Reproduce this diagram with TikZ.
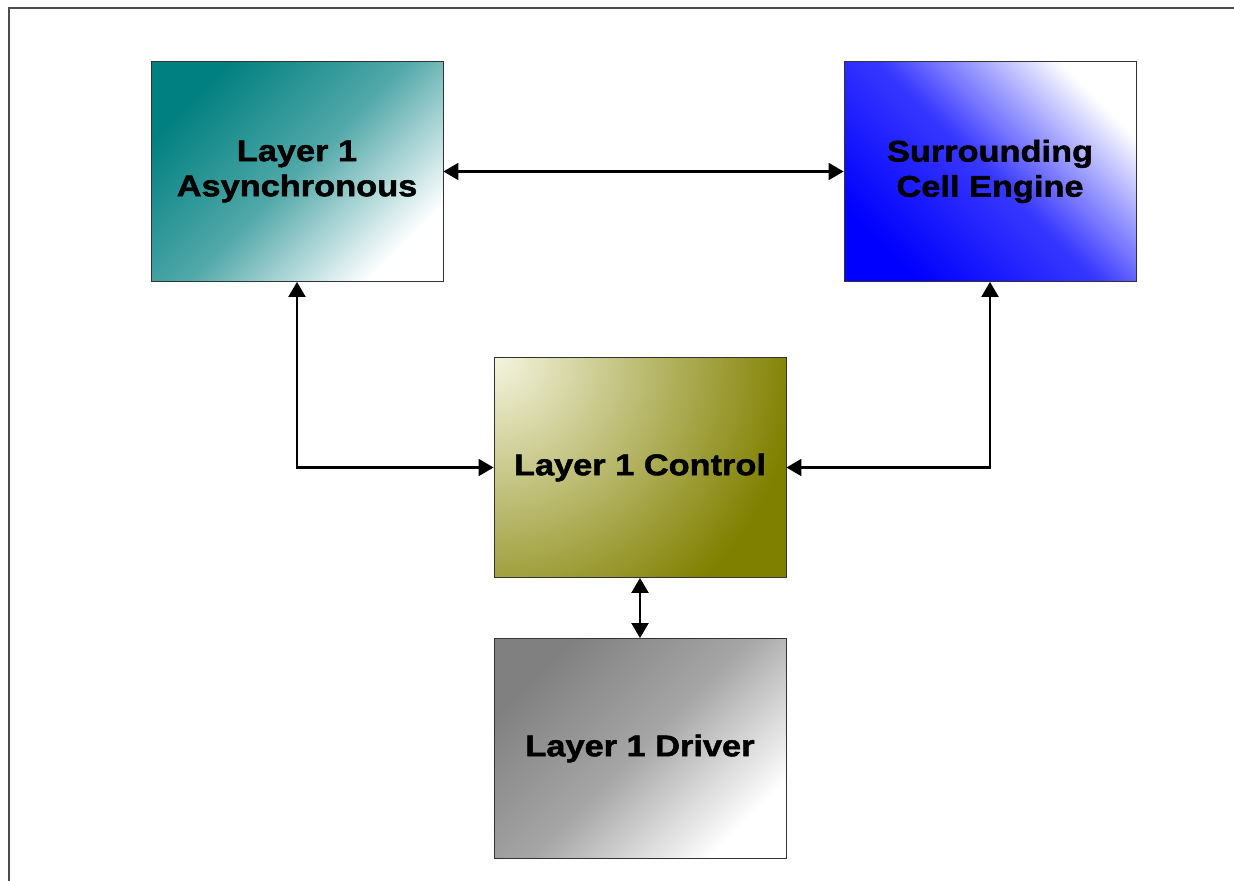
\documentclass[tikz,border=0pt]{standalone}
\usepackage{fontspec}
\setmainfont{Liberation Sans}
\newfontfamily\blockfont{Liberation Sans}[UprightFont={* Bold}, FakeStretch=1.15, FakeBold=1.6]
\usepackage{tikz}
\usetikzlibrary{positioning}
\usetikzlibrary{arrows.meta}
\colorlet{ctrllight}{olive!8!white}
\colorlet{ctrldark}{olive}
\pgfdeclareradialshading{ctrlglow}{\pgfpoint{0bp}{0bp}}{color(0bp)=(ctrllight); color(20bp)=(ctrldark); color(50bp)=(ctrldark)}
\tikzset{	node distance=5.62cm,
	block/.style={
		rectangle,
		draw=black!80,
		line width=0.5pt,
		minimum width=5.84cm,
		minimum height=4.4cm,
		align=center,
		font=\blockfont\fontsize{17}{20}\selectfont},
	link/.style={
		draw,
		{Triangle[length=0.3cm,width=0.34cm]}-{Triangle[length=0.3cm,width=0.34cm]},
		line width=1.2pt}
}

\begin{document}
\begin{tikzpicture}
				\useasboundingbox (0,0) rectangle (24.68,-17.62);
				\draw[black!70, line width=1.3pt] (0.18,-17.62) -- (0.18,-0.16) -- (24.68,-0.16);
				\node[block, top color=teal, bottom color=white, middle color=teal!68!white, shading angle=45] (async) at (5.94,-3.43) {Layer 1\\Asynchronous};
				\node[block, top color=white, bottom color=blue, middle color=blue!78!white, shading angle=-45, right of=async, node distance=13.86cm] (surround) {Surrounding\\Cell Engine};
				\node[block, path picture={\shade[shading=ctrlglow] (path picture bounding box.north west) circle (7.6cm);}] (control) at (12.8,-9.35) {Layer 1 Control};
				\node[block, top color=gray, bottom color=white, middle color=gray!70!white, shading angle=45, below of=control] (driver) {Layer 1 Driver};
				\draw[link] (async) -- (surround);
				\draw[link] (async.south) |- (control.west);
				\draw[link] (surround.south) |- (control.east);
				\draw[link] (control) -- (driver);
			\end{tikzpicture}
\end{document}
